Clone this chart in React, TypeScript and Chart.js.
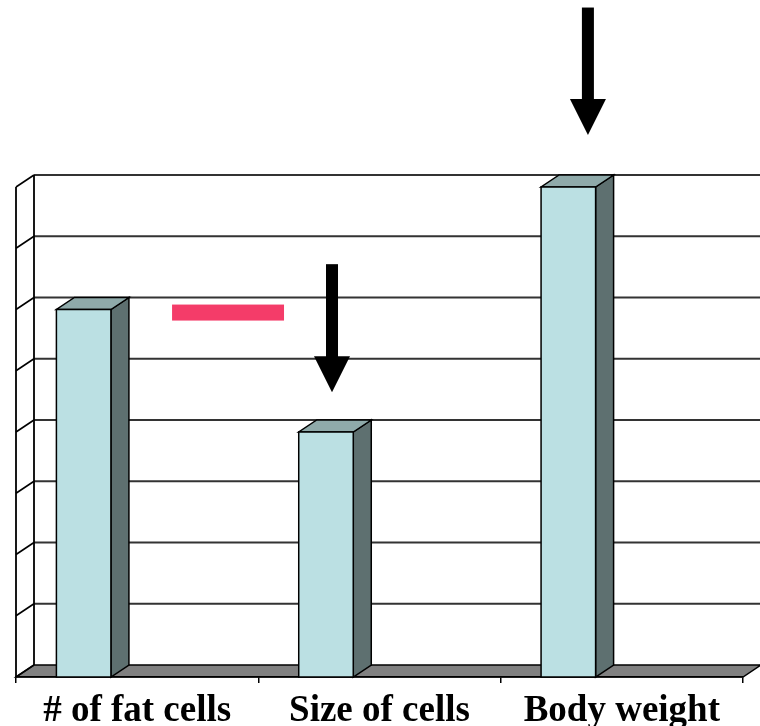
import React, { useEffect, useRef } from 'react';
import { Chart, registerables } from 'chart.js';

Chart.register(...registerables);

// ---- data ----
const categories = ['# of fat cells', 'Size of cells', 'Body weight'];
const values = [6, 4, 8];
const yMin = 0;
const yMax = 8;
const yStep = 1;

// annotations expressed in data space (category index, value)
const arrowXIndex = [1.86, 0.804];
const arrowFromValue = [10.93, 6.74];
const arrowToValue = [8.85, 4.65];
const markerFromIndex = 0.144;
const markerToIndex = 0.606;
const markerValue = 5.95;

// ---- style ----
const DX = 18;
const DY = 12;
const BAR_SHIFT = 53.5;
const FRONT = '#BBE0E3';
const TOP = '#8FAAAA';
const SIDE = '#5E7070';
const FLOOR = '#808080';
const GRID = '#333333';

const threeD = {
  id: 'threeD',
  beforeDraw(chart: any) {
    const { ctx, chartArea: a, scales } = chart;
    const y = scales.y;
    ctx.save();
    // floor
    ctx.beginPath();
    ctx.moveTo(a.left, a.bottom);
    ctx.lineTo(a.right, a.bottom);
    ctx.lineTo(a.right + DX, a.bottom - DY);
    ctx.lineTo(a.left + DX, a.bottom - DY);
    ctx.closePath();
    ctx.fillStyle = FLOOR;
    ctx.fill();
    ctx.strokeStyle = '#000';
    ctx.lineWidth = 1.5;
    ctx.stroke();
    // gridlines on back wall + side wall ticks
    for (const t of y.ticks) {
      const pf = y.getPixelForValue(t.value);
      const pb = pf - DY;
      if (t.value !== yMin) {
        ctx.beginPath();
        ctx.moveTo(a.left + DX, pb);
        ctx.lineTo(a.right + DX, pb);
        ctx.strokeStyle = GRID;
        ctx.lineWidth = 1.8;
        ctx.stroke();
      }
      ctx.beginPath();
      ctx.moveTo(a.left, pf);
      ctx.lineTo(a.left + DX, pb);
      ctx.strokeStyle = '#000';
      ctx.lineWidth = 1.6;
      ctx.stroke();
    }
    // vertical edges
    ctx.strokeStyle = '#000';
    ctx.lineWidth = 1.8;
    ctx.beginPath();
    ctx.moveTo(a.left, a.top);
    ctx.lineTo(a.left, a.bottom);
    ctx.moveTo(a.left + DX, a.top - DY);
    ctx.lineTo(a.left + DX, a.bottom - DY);
    ctx.moveTo(a.right + DX, a.top - DY);
    ctx.lineTo(a.right + DX, a.bottom - DY);
    ctx.stroke();
    ctx.restore();
  },
  afterDatasetsDraw(chart: any) {
    const { ctx } = chart;
    const meta = chart.getDatasetMeta(0);
    ctx.save();
    ctx.strokeStyle = '#000';
    ctx.lineWidth = 1.5;
    ctx.lineJoin = 'miter';
    meta.data.forEach((el: any) => {
      const { x: cx, y: top, base, width } = el.getProps(['x', 'y', 'base', 'width'], true);
      const l = cx - BAR_SHIFT - width / 2;
      const r = l + width;
      // side
      ctx.beginPath();
      ctx.moveTo(r, top);
      ctx.lineTo(r + DX, top - DY);
      ctx.lineTo(r + DX, base - DY);
      ctx.lineTo(r, base);
      ctx.closePath();
      ctx.fillStyle = SIDE;
      ctx.fill();
      ctx.stroke();
      // top
      ctx.beginPath();
      ctx.moveTo(l, top);
      ctx.lineTo(r, top);
      ctx.lineTo(r + DX, top - DY);
      ctx.lineTo(l + DX, top - DY);
      ctx.closePath();
      ctx.fillStyle = TOP;
      ctx.fill();
      ctx.stroke();
      // front
      ctx.beginPath();
      ctx.rect(l, top, width, base - top);
      ctx.fillStyle = FRONT;
      ctx.fill();
      ctx.stroke();
    });
    ctx.restore();
  },
  afterDraw(chart: any) {
    const { ctx, scales } = chart;
    const { x, y } = scales;
    ctx.save();
    // marker
    const mx0 = x.getPixelForValue(markerFromIndex);
    const mx1 = x.getPixelForValue(markerToIndex);
    const my = y.getPixelForValue(markerValue);
    ctx.fillStyle = '#F43C69';
    ctx.fillRect(mx0, my - 8, mx1 - mx0, 16);
    // arrows
    ctx.fillStyle = '#000';
    arrowXIndex.forEach((xi, i) => {
      const px = x.getPixelForValue(xi);
      const y0 = y.getPixelForValue(arrowFromValue[i]);
      const tip = y.getPixelForValue(arrowToValue[i]);
      const headLen = 36;
      ctx.fillRect(px - 6, y0, 12, tip - headLen - y0 + 1);
      ctx.beginPath();
      ctx.moveTo(px - 18, tip - headLen);
      ctx.lineTo(px + 18, tip - headLen);
      ctx.lineTo(px, tip);
      ctx.closePath();
      ctx.fill();
    });
    ctx.restore();
  },
};

export default function App() {
  const ref = useRef<HTMLCanvasElement>(null);
  useEffect(() => {
    document.body.style.margin = '0';
    const canvas = ref.current!;
    const chart = new Chart(canvas, {
      type: 'bar',
      data: {
        labels: categories,
        datasets: [
          {
            data: values,
            backgroundColor: 'rgba(0,0,0,0)',
            borderWidth: 0,
            barPercentage: 0.225,
            categoryPercentage: 1,
          },
        ],
      },
      options: {
        responsive: false,
        maintainAspectRatio: false,
        animation: false,
        events: [],
        layout: { padding: { left: 16, right: 17, top: 187, bottom: -14 } },
        plugins: { legend: { display: false }, tooltip: { enabled: false } },
        scales: {
          x: {
            offset: true,
            grid: {
              display: true,
              offset: true,
              drawOnChartArea: false,
              drawTicks: true,
              tickLength: 6,
              color: '#000',
              lineWidth: 1.5,
            },
            border: { display: true, color: '#000', width: 1.5 },
            ticks: {
              color: '#000',
              padding: 10,
              maxRotation: 0,
              autoSkip: false,
              font: { family: "'Liberation Serif', 'Times New Roman', serif", size: 37, weight: 'bold', lineHeight: 1 },
            },
          },
          y: {
            display: false,
            min: yMin,
            max: yMax,
            ticks: { stepSize: yStep },
          },
        },
      },
      plugins: [threeD],
    });
    return () => chart.destroy();
  }, []);
  return (
    <div style={{ width: 760, height: 726 }}>
      <canvas ref={ref} width={760} height={726} style={{ display: 'block' }} />
    </div>
  );
}
